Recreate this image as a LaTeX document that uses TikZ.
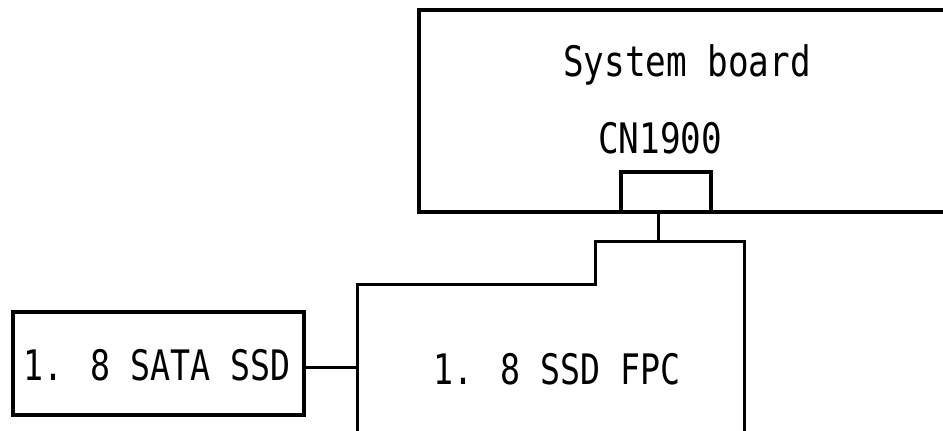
\documentclass[tikz,border=0pt]{standalone}
\usepackage{fontspec}
\newfontfamily\diagfont{DejaVu Sans Mono}
\begin{document}
\begin{tikzpicture}[x=1pt,y=-1pt,
  thick box/.style={draw=black,line width=4pt},
  thin line/.style={draw=black,line width=3pt},
  lbl/.style={font=\diagfont\fontsize{35}{35}\selectfont,inner sep=0pt,anchor=base,text=black}]
\useasboundingbox (0,0) rectangle (943,431);
% system board (extends beyond right edge)
\coordinate (sbtl) at (419,10);
\coordinate (sbtr) at (960,10);
\coordinate (sbbl) at (419,212);
\coordinate (sbbr) at (960,212);
\begin{scope}
\clip (0,0) rectangle (943,431);
\draw[thick box] (sbtr) -- (sbtl) -- (sbbl) -- (sbbr);
\end{scope}
\node[lbl] (sbtext) at (687,76) {\scalebox{0.98}[1.2]{System board}};
\node[lbl] (cntext) at (660,153) {\scalebox{0.98}[1.2]{CN1900}};
% connector CN1900
\coordinate (cnbl) at (621,212);
\coordinate (cnbr) at (711,212);
\coordinate (cntl) at (621,172);
\coordinate (cntr) at (711,172);
\draw[thick box,line join=miter] (cnbl) -- (cntl) -- (cntr) -- (cnbr);
% cable from connector
\coordinate (cnbot) at (658,212);
\coordinate (fpctop) at (658,241);
\draw[thin line] (cnbot) -- (fpctop);
% FPC outline
\coordinate (f1) at (357,440);
\coordinate (f2) at (357,284);
\coordinate (f3) at (595,284);
\coordinate (f4) at (595,241);
\coordinate (f5) at (744,241);
\coordinate (f6) at (744,440);
\begin{scope}
\clip (0,0) rectangle (943,431);
\draw[thin line,line join=miter] (f1) -- (f2) -- (f3) -- (f4) -- (f5) -- (f6);
\end{scope}
\node[lbl] (fpctext) at (557,384) {\scalebox{0.95}[1.2]{1. 8 SSD FPC}};
% SATA SSD
\node[thick box,minimum width=291pt,minimum height=103pt,inner sep=0pt] (ssd) at (158.5,363.5) {};
\node[lbl] (ssdtext) at (157,380) {\scalebox{0.95}[1.2]{1. 8 SATA SSD}};
\coordinate (fpcleft) at (357,367);
\draw[thin line] (ssd.east |- fpcleft) -- (fpcleft);
\end{tikzpicture}
\end{document}
